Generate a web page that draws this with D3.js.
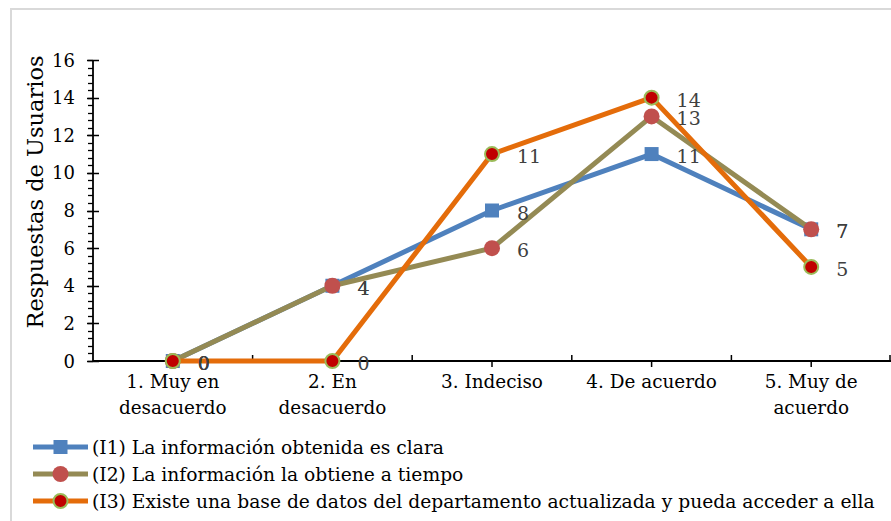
<!DOCTYPE html>
<html>
<head>
<meta charset="utf-8">
<script src="https://cdn.jsdelivr.net/npm/d3@7"></script>
<style>
  html, body { margin: 0; padding: 0; background: #fff; }
  svg { display: block; }
  text { font-family: "DejaVu Serif", "Liberation Serif", serif; }
</style>
</head>
<body>
<svg id="chart" width="891" height="521"></svg>
<script>
// Response categories (two-line axis labels)
const categories = [
  ["1. Muy en", "desacuerdo"],
  ["2. En", "desacuerdo"],
  ["3. Indeciso"],
  ["4. De acuerdo"],
  ["5. Muy de", "acuerdo"]
];
const seriesNames = [
  "(I1) La información obtenida es clara",
  "(I2) La información la obtiene a tiempo",
  "(I3) Existe una base de datos del departamento actualizada y pueda acceder a ella"
];
const i1Values = [0, 4, 8, 11, 7];
const i2Values = [0, 4, 6, 13, 7];
const i3Values = [0, 0, 11, 14, 5];
const yTicks = [0, 2, 4, 6, 8, 10, 12, 14, 16];
const yTitle = "Respuestas de Usuarios";

const series = [
  { name: seriesNames[0], values: i1Values, line: "#4F81BD", marker: "square", fill: "#4F81BD", stroke: "#4F81BD" },
  { name: seriesNames[1], values: i2Values, line: "#948A54", marker: "circle", fill: "#C0504D", stroke: "#C0504D" },
  { name: seriesNames[2], values: i3Values, line: "#E46C0A", marker: "dot", fill: "#C00000", stroke: "#9BBB59" }
];

const svg = d3.select("#chart");

// Outer chart frame (only top/left edges are within the page)
svg.append("path")
  .attr("d", "M11,521 V9 H891")
  .attr("fill", "none")
  .attr("stroke", "#d9d9d9")
  .attr("stroke-width", 2);

const plot = { left: 93, right: 891, top: 60, bottom: 361 };

const x = d3.scaleBand()
  .domain(d3.range(categories.length))
  .range([plot.left, plot.right])
  .paddingInner(0).paddingOuter(0);
const xc = i => x(i) + x.bandwidth() / 2;

const y = d3.scaleLinear().domain([0, 16]).range([plot.bottom, plot.top]);

const g = svg.append("g");

// Y axis: minor ticks outside, major ticks crossing the axis
const minor = d3.range(0, 16.001, 0.4);
g.append("g").selectAll("line").data(minor).join("line")
  .attr("x1", plot.left - 5).attr("x2", plot.left)
  .attr("y1", d => Math.round(y(d)) + 0.5).attr("y2", d => Math.round(y(d)) + 0.5)
  .attr("stroke", "#000").attr("stroke-width", 1.3);
g.append("g").selectAll("line").data(yTicks).join("line")
  .attr("x1", plot.left - 6).attr("x2", plot.left + 6)
  .attr("y1", d => Math.round(y(d)) + 0.5).attr("y2", d => Math.round(y(d)) + 0.5)
  .attr("stroke", "#000").attr("stroke-width", 1.5);
g.append("line")
  .attr("x1", plot.left).attr("x2", plot.left)
  .attr("y1", y(16)).attr("y2", y(0))
  .attr("stroke", "#000").attr("stroke-width", 1.8);
g.append("g").selectAll("text").data(yTicks).join("text")
  .attr("x", plot.left - 18).attr("y", d => y(d))
  .attr("text-anchor", "end").attr("dominant-baseline", "central")
  .attr("font-size", 18).attr("fill", "#000")
  .text(d => d);

// Y title
svg.append("text")
  .attr("transform", `translate(35,192) rotate(-90)`)
  .attr("text-anchor", "middle").attr("dominant-baseline", "central")
  .attr("font-size", 22.5).attr("fill", "#000")
  .text(yTitle);

// X axis: ticks between categories point up, ticks at categories point down
g.append("line")
  .attr("x1", plot.left).attr("x2", plot.right)
  .attr("y1", y(0)).attr("y2", y(0))
  .attr("stroke", "#000").attr("stroke-width", 1.8);
const bounds = d3.range(1, categories.length + 1).map(i => i < categories.length ? x(i) : plot.right - 1);
g.append("g").selectAll("line").data(bounds).join("line")
  .attr("x1", d => d).attr("x2", d => d)
  .attr("y1", y(0)).attr("y2", y(0) - 6)
  .attr("stroke", "#000").attr("stroke-width", 1.5);
g.append("g").selectAll("line").data(d3.range(categories.length)).join("line")
  .attr("x1", d => xc(d)).attr("x2", d => xc(d))
  .attr("y1", y(0)).attr("y2", y(0) + 6)
  .attr("stroke", "#000").attr("stroke-width", 1.5);

const xl = g.append("g").selectAll("text").data(categories).join("text")
  .attr("x", (d, i) => xc(i)).attr("y", 388)
  .attr("text-anchor", "middle").attr("font-size", 18.4).attr("fill", "#000");
xl.selectAll("tspan").data(d => d).join("tspan")
  .attr("x", function () { return d3.select(this.parentNode).attr("x"); })
  .attr("dy", (d, j) => j === 0 ? 0 : 26)
  .text(d => d);

// Marker drawing helper
function drawMarker(sel, s, cx, cy, scale) {
  const k = scale || 1;
  if (s.marker === "square") {
    sel.append("rect")
      .attr("x", cx - 7 * k).attr("y", cy - 7 * k)
      .attr("width", 14 * k).attr("height", 14 * k)
      .attr("fill", s.fill);
  } else if (s.marker === "circle") {
    sel.append("circle").attr("cx", cx).attr("cy", cy).attr("r", 8 * k)
      .attr("fill", s.fill);
  } else {
    sel.append("circle").attr("cx", cx).attr("cy", cy).attr("r", 7 * k)
      .attr("fill", s.fill).attr("stroke", s.stroke).attr("stroke-width", 2);
  }
}

const line = d3.line().x((d, i) => xc(i)).y(d => y(d));

series.forEach(s => {
  const sg = svg.append("g");
  sg.append("path")
    .attr("d", line(s.values))
    .attr("fill", "none").attr("stroke", s.line)
    .attr("stroke-width", 5).attr("stroke-linejoin", "round");
  s.values.forEach((v, i) => drawMarker(sg, s, xc(i), y(v)));
});

// Data labels
series.forEach(s => {
  svg.append("g").selectAll("text").data(s.values).join("text")
    .attr("x", (d, i) => xc(i) + 25)
    .attr("y", d => y(d) + 2)
    .attr("dominant-baseline", "central")
    .attr("font-size", 19).attr("fill", "#404040")
    .text(d => d);
});

// Legend
const legend = svg.append("g");
series.forEach((s, i) => {
  const ly = 447 + i * 27;
  legend.append("line")
    .attr("x1", 33).attr("x2", 88).attr("y1", ly).attr("y2", ly)
    .attr("stroke", s.line).attr("stroke-width", 5);
  drawMarker(legend, s, 60.5, ly, 1);
  legend.append("text")
    .attr("x", 92).attr("y", ly)
    .attr("dominant-baseline", "central")
    .attr("font-size", 18.7).attr("fill", "#000")
    .text(s.name);
});
</script>
</body>
</html>
